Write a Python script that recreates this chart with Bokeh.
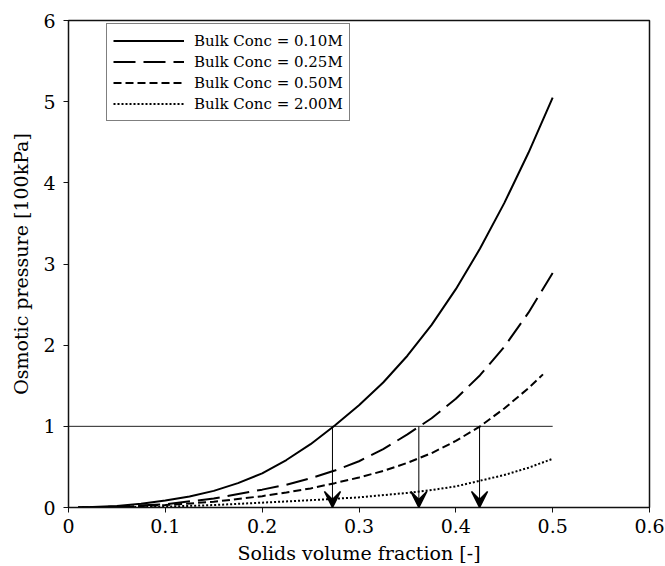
from bokeh.plotting import figure
from bokeh.models import (Range1d, Arrow, VeeHead, ColumnDataSource, Legend,
                          LegendItem, FixedTicker)
from bokeh.embed import file_html
from bokeh.resources import INLINE

# ---- data ----
x_010 = [0.01, 0.025, 0.05, 0.075, 0.10, 0.125, 0.15, 0.175, 0.20, 0.225, 0.25,
         0.275, 0.30, 0.325, 0.35, 0.375, 0.40, 0.425, 0.45, 0.475, 0.50]
y_010 = [0.0, 0.006, 0.02, 0.045, 0.085, 0.135, 0.205, 0.30, 0.42, 0.585, 0.78,
         1.01, 1.26, 1.54, 1.87, 2.25, 2.69, 3.19, 3.75, 4.37, 5.05]

x_025 = [0.01, 0.05, 0.10, 0.15, 0.20, 0.225, 0.25, 0.275, 0.30, 0.325, 0.35,
         0.375, 0.40, 0.425, 0.45, 0.475, 0.50]
y_025 = [0.0, 0.01, 0.04, 0.11, 0.22, 0.28, 0.36, 0.455, 0.57, 0.72, 0.90,
         1.10, 1.34, 1.63, 1.98, 2.40, 2.89]

x_050 = [0.01, 0.05, 0.10, 0.15, 0.20, 0.225, 0.25, 0.275, 0.30, 0.325, 0.35,
         0.375, 0.40, 0.425, 0.45, 0.475, 0.49]
y_050 = [0.0, 0.005, 0.03, 0.07, 0.14, 0.185, 0.235, 0.30, 0.37, 0.45, 0.55,
         0.67, 0.82, 1.00, 1.22, 1.47, 1.64]

x_200 = [0.01, 0.05, 0.10, 0.15, 0.20, 0.25, 0.30, 0.35, 0.375, 0.40, 0.425,
         0.45, 0.475, 0.50]
y_200 = [0.0, 0.003, 0.01, 0.03, 0.06, 0.09, 0.125, 0.18, 0.215, 0.26, 0.33,
         0.40, 0.49, 0.60]

series_labels = ["Bulk Conc = 0.10M", "Bulk Conc = 0.25M",
                 "Bulk Conc = 0.50M", "Bulk Conc = 2.00M"]

threshold = 1.0
threshold_x = [0.0, 0.5]
crossing_x = [0.2726, 0.3618, 0.4245]

xticks = [0, 0.1, 0.2, 0.3, 0.4, 0.5, 0.6]
xtick_labels = ["0", "0.1", "0.2", "0.3", "0.4", "0.5", "0.6"]
yticks = [0, 1, 2, 3, 4, 5, 6]

FONT = "DejaVu Serif"

p = figure(width=665, height=566, output_backend="svg", toolbar_location=None,
           x_range=Range1d(0, 0.6), y_range=Range1d(0, 6),
           min_border_left=68, min_border_right=16, min_border_top=20,
           min_border_bottom=58)

p.xgrid.visible = False
p.ygrid.visible = False
p.outline_line_color = "#111111"
p.outline_line_width = 1.5
p.background_fill_color = "white"
p.border_fill_color = "white"

for ax in (p.xaxis[0], p.yaxis[0]):
    ax.axis_line_color = "#111111"
    ax.axis_line_width = 1
    ax.major_tick_in = 0
    ax.major_tick_out = 5
    ax.minor_tick_line_color = None
    ax.major_tick_line_color = "#111111"
    ax.major_label_text_font = FONT
    ax.major_label_text_font_size = "19px"
    ax.major_label_text_color = "black"
    ax.axis_label_text_font = FONT
    ax.axis_label_text_font_size = "19px"
    ax.axis_label_text_font_style = "normal"
    ax.axis_label_text_color = "black"

p.xaxis.ticker = FixedTicker(ticks=xticks)
p.xaxis.major_label_overrides = {t: l for t, l in zip(xticks, xtick_labels)}
p.yaxis.ticker = FixedTicker(ticks=yticks)
p.xaxis.axis_label = "Solids volume fraction [-]"
p.yaxis.axis_label = "Osmotic pressure [100kPa]"
p.xaxis.major_label_standoff = 6
p.yaxis.major_label_standoff = 8
p.xaxis.axis_label_standoff = 6
p.yaxis.axis_label_standoff = 8

# threshold line
p.line(threshold_x, [threshold] * len(threshold_x), line_color="#222222", line_width=1)

r1 = p.line(x_010, y_010, line_color="black", line_width=2)
r2 = p.line(x_025, y_025, line_color="black", line_width=2, line_dash="22 8")
r3 = p.line(x_050, y_050, line_color="black", line_width=2, line_dash="8 4")
r4 = p.line(x_200, y_200, line_color="black", line_width=2, line_dash="2 2")

# arrows
arrow_src = ColumnDataSource(dict(x0=crossing_x, y0=[threshold] * len(crossing_x),
                                  x1=crossing_x, y1=[0.0] * len(crossing_x)))
p.add_layout(Arrow(end=VeeHead(size=16, fill_color="black", line_color="black",
                               line_width=1.5),
                   x_start="x0", y_start="y0", x_end="x1", y_end="y1",
                   source=arrow_src, line_color="black", line_width=1))

legend = Legend(items=[LegendItem(label=l, renderers=[r])
                       for l, r in zip(series_labels, [r1, r2, r3, r4])],
                location=(38, 386))
legend.glyph_width = 71
legend.glyph_height = 21
legend.label_height = 21
legend.spacing = 0
legend.padding = 6
legend.margin = 0
legend.label_standoff = 10
legend.border_line_color = "black"
legend.border_line_width = 1
legend.background_fill_alpha = 1
legend.label_text_font = FONT
legend.label_text_font_size = "15px"
legend.label_text_color = "black"
p.add_layout(legend)

open("out.html", "w").write(file_html(p, INLINE))
